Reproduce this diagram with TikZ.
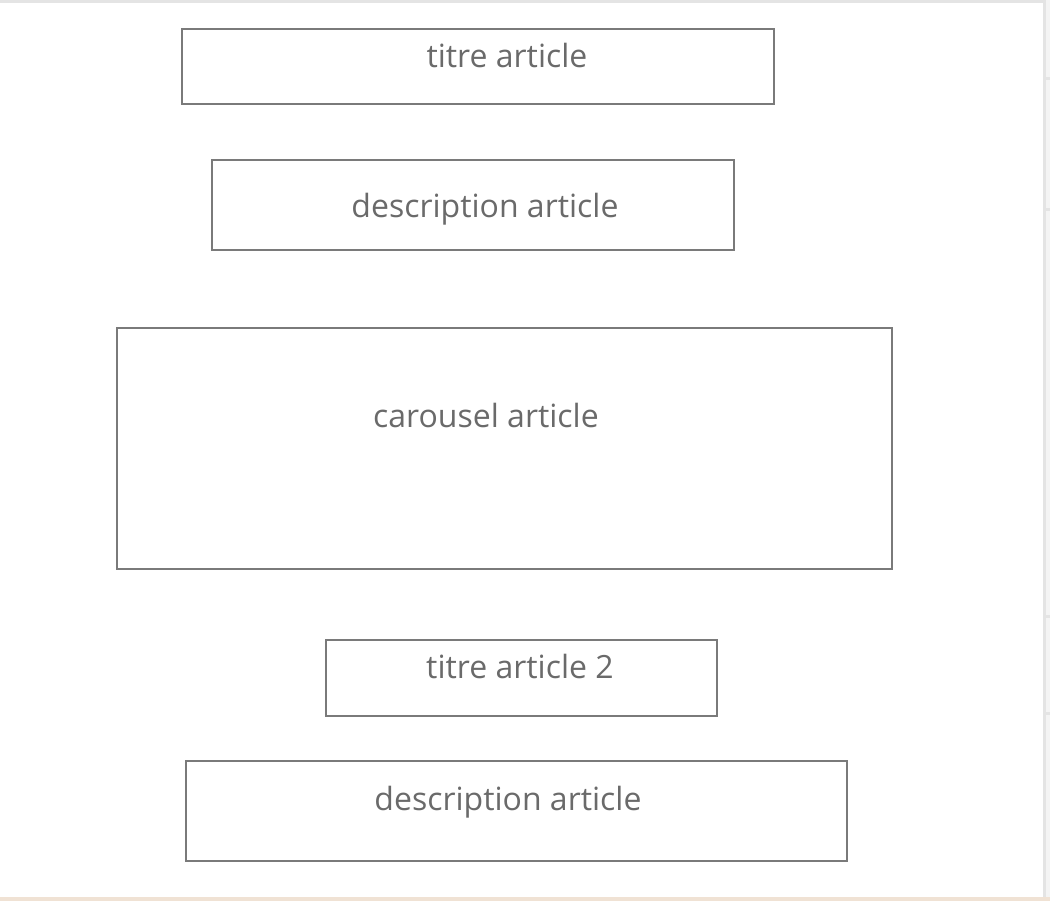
\documentclass[tikz,border=0pt]{standalone}
\usepackage{fontspec}
\setmainfont{Open Sans}
\definecolor{boxline}{HTML}{7A7A7A}
\definecolor{labeltext}{HTML}{6A6A6A}
\definecolor{frameline}{HTML}{E4E4E4}
\definecolor{sidepanel}{HTML}{F4F4F4}
\definecolor{peach}{HTML}{F0E2D4}
\begin{document}
\begin{tikzpicture}[x=0.75pt,y=-0.75pt,
  block/.style={draw=boxline,line width=1.1pt},
  caption/.style={text=labeltext,font=\fontsize{24}{28}\selectfont,inner sep=0pt,anchor=base}]
\useasboundingbox (0,0) rectangle (1050,901);
\fill[white] (0,0) rectangle (1050,901);
% window frame
\fill[frameline] (0,0) rectangle (1043,3);
\fill[sidepanel] (1046,0) rectangle (1050,901);
\fill[frameline] (1043,0) rectangle (1046,901);
\foreach \yy in {77,208,615,712} \fill[frameline] (1046,\yy) rectangle (1050,\yy+3);
\fill[peach] (0,897) rectangle (1050,901);
% content blocks
\draw[block] (182,29) rectangle (774,104) coordinate (titreA);
\draw[block] (212,160) rectangle (734,250) coordinate (descA);
\draw[block] (117,328) rectangle (892,569) coordinate (carousel);
\draw[block] (326,640) rectangle (717,716) coordinate (titreB);
\draw[block] (186,761) rectangle (847,861) coordinate (descB);
% captions
\node[caption] (t1) at (507,67) {titre article};
\node[caption] (t2) at (485,217) {description article};
\node[caption] (t3) at (486,427) {carousel article};
\node[caption] (t4) at (520,678) {titre article 2};
\node[caption] (t5) at (508,810) {description article};
\end{tikzpicture}
\end{document}
